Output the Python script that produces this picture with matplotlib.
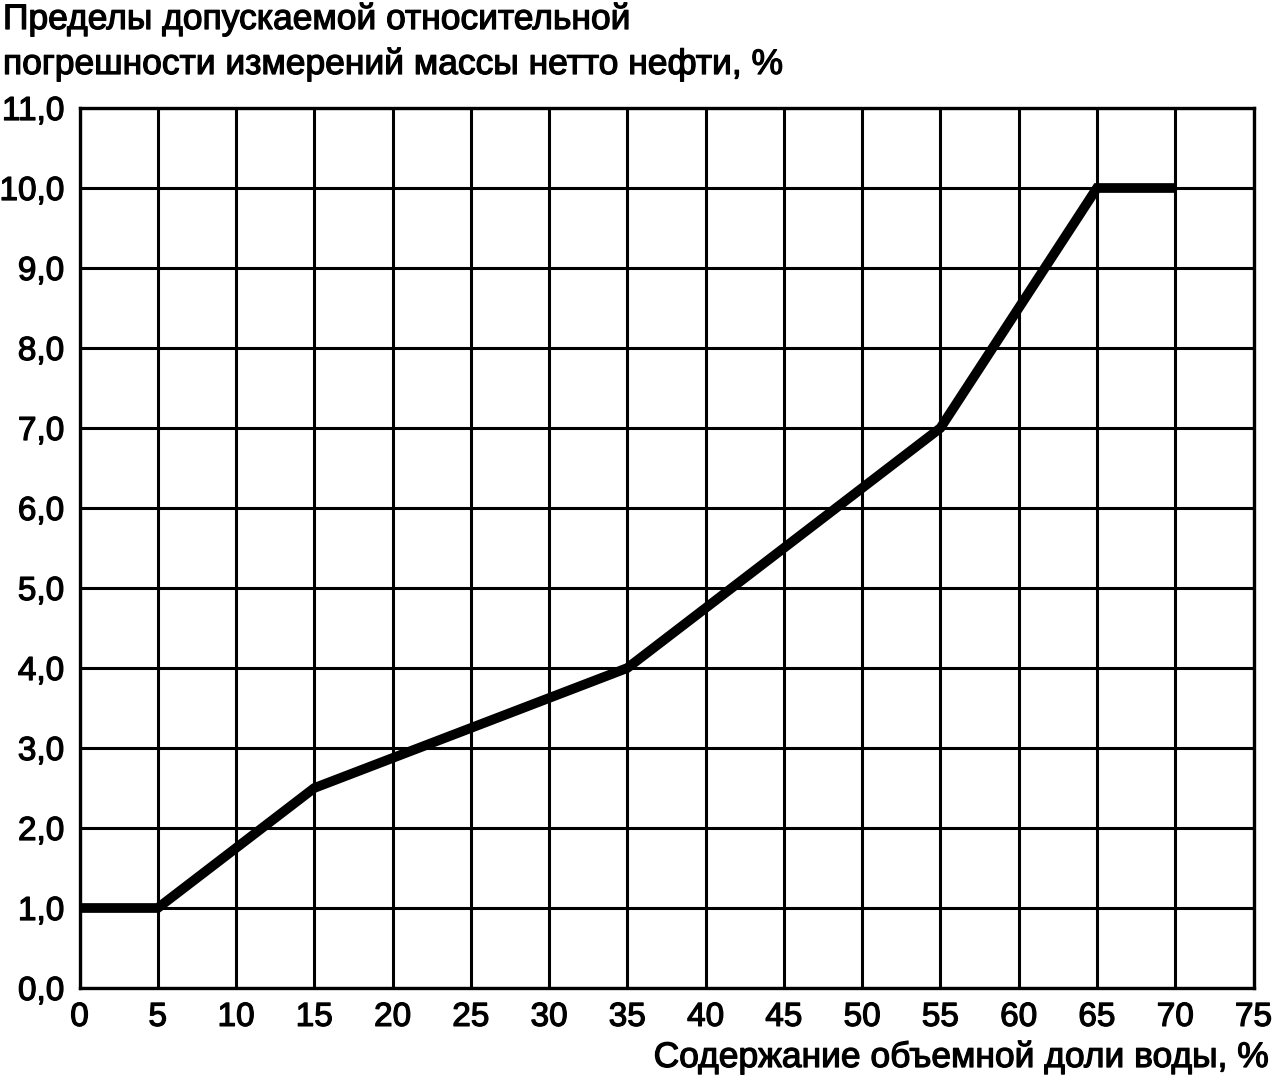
import matplotlib

matplotlib.use("Agg")
import matplotlib.pyplot as plt
import matplotlib.patheffects as pe

# Water volume fraction (%) vs permissible relative error limits (%)
water_fraction = [0, 5, 15, 35, 55, 65, 70]
error_limit = [1.0, 1.0, 2.5, 4.0, 7.0, 10.0, 10.0]

x_ticks = list(range(0, 80, 5))
y_ticks = list(range(0, 12))
y_tick_labels = [f"{v},0" for v in y_ticks]

title_lines = ["Пределы допускаемой относительной",
               "погрешности измерений массы нетто нефти, %"]
xlabel_text = "Содержание объемной доли воды, %"

plt.rcParams["font.family"] = ["Liberation Sans", "DejaVu Sans"]
heavy = [pe.withStroke(linewidth=0.9, foreground="black")]  # original text is rendered a bit heavier

W, H = 1277, 1081
fig = plt.figure(figsize=(W / 100, H / 100), dpi=100)
left, right, top, bottom = 79.5, 1253.5, 108, 988
ax = fig.add_axes([left / W, 1 - bottom / H, (right - left) / W, (bottom - top) / H])

ax.plot(water_fraction, error_limit, color="black", linewidth=7, solid_joinstyle="miter",
        solid_capstyle="butt", zorder=3)

ax.set_xlim(0, 75)
ax.set_ylim(0, 11)
ax.set_xticks(x_ticks)
ax.set_xticklabels([str(v) for v in x_ticks])
ax.set_yticks(y_ticks)
ax.set_yticklabels(y_tick_labels)
ax.tick_params(axis="both", length=0, labelsize=24, colors="black")
ax.tick_params(axis="x", pad=10)
ax.tick_params(axis="y", pad=11)
for lbl in ax.get_xticklabels() + ax.get_yticklabels():
    lbl.set_path_effects(heavy)
ax.grid(True, color="black", linewidth=2.2)
for s in ax.spines.values():
    s.set_linewidth(2.4)
    s.set_color("black")

# two-line y-axis caption at the top-left, x caption at bottom-right
for i, line in enumerate(title_lines):
    fig.text(3 / W, 1 - (29 + 45 * i) / H, line, ha="left", va="baseline", fontsize=25.5,
             path_effects=heavy)
fig.text(1270 / W, 1 - 1067 / H, xlabel_text, ha="right", va="baseline", fontsize=25.5,
         path_effects=heavy)

fig.savefig("out.png", dpi=100)
